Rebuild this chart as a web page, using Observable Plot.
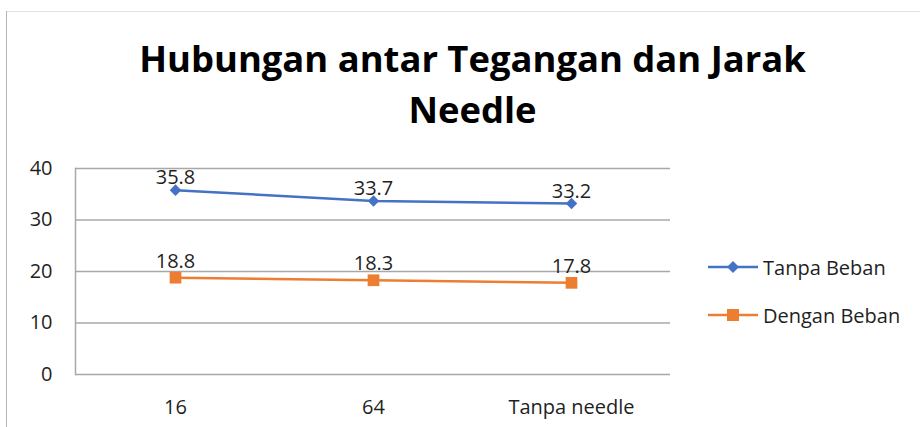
<!DOCTYPE html>
<html>
<head>
<meta charset="utf-8">
<script src="https://cdn.jsdelivr.net/npm/d3@7"></script>
<script src="https://cdn.jsdelivr.net/npm/@observablehq/plot@0.6"></script>
<style>
  html, body { margin: 0; padding: 0; background: #fff; }
  #wrap { position: relative; width: 920px; height: 427px; overflow: hidden; font-family: "Open Sans", sans-serif; }
  #frameTop { position: absolute; left: 6px; top: 11px; width: 914px; height: 0; border-top: 1px solid #e2e2e2; }
  #frameLeft { position: absolute; left: 6px; top: 11px; width: 0; height: 416px; border-left: 1.5px solid #b5b5b5; }
  #title { position: absolute; left: 0; width: 945px; top: 33px; text-align: center; font-weight: 700; font-size: 36.4px; line-height: 51px; color: #000; }
  #chart { position: absolute; left: 0; top: 0; }
  #legend { position: absolute; left: 706px; top: 252px; font-size: 20px; color: #1f1f1f; }
  .item { display: flex; align-items: center; height: 30px; margin-bottom: 18px; }
  .item svg { margin-right: 3px; }
</style>
</head>
<body>
<div id="wrap">
  <div id="frameTop"></div>
  <div id="frameLeft"></div>
  <div id="chart"></div>
  <div id="title">Hubungan antar Tegangan dan Jarak<br>Needle</div>
  <div id="legend"></div>
</div>
<script>
const categories = ["16", "64", "Tanpa needle"];
const tanpaBeban = [35.8, 33.7, 33.2];
const denganBeban = [18.8, 18.3, 17.8];
const yTicks = [0, 10, 20, 30, 40];
const seriesNames = ["Tanpa Beban", "Dengan Beban"];
const seriesColors = ["#4472C4", "#ED7D31"];

const rowsA = categories.map((c, i) => ({cat: c, v: tanpaBeban[i]}));
const rowsB = categories.map((c, i) => ({cat: c, v: denganBeban[i]}));

const chart = Plot.plot({
  width: 920,
  height: 427,
  marginLeft: 75,
  marginRight: 250,
  marginTop: 168,
  marginBottom: 53,
  style: {fontFamily: "Open Sans, sans-serif", fontSize: "20px", color: "#1f1f1f", background: "transparent"},
  x: {type: "point", domain: categories, padding: 0.5, label: null},
  y: {domain: [0, 40], ticks: yTicks, label: null},
  marks: [
    Plot.ruleY(yTicks, {stroke: "#a8a8a8", strokeWidth: 1.5}),
    Plot.frame({anchor: "left", stroke: "#a8a8a8", strokeWidth: 1.5}),
    Plot.axisY({ticks: yTicks, tickSize: 0, tickPadding: 23, fontSize: 20, fill: "#1f1f1f", label: null}),
    Plot.axisX({tickSize: 0, tickPadding: 25, fontSize: 20, fill: "#1f1f1f", label: null}),
    Plot.line(rowsA, {x: "cat", y: "v", stroke: seriesColors[0], strokeWidth: 2.5}),
    Plot.dot(rowsA, {x: "cat", y: "v", symbol: "diamond2", r: 5.2, fill: seriesColors[0], stroke: "none"}),
    Plot.line(rowsB, {x: "cat", y: "v", stroke: seriesColors[1], strokeWidth: 2.5}),
    Plot.dot(rowsB, {x: "cat", y: "v", symbol: "square", r: 6.6, fill: seriesColors[1], stroke: "none"}),
    Plot.text(rowsA, {x: "cat", y: "v", text: d => d.v.toFixed(1), lineAnchor: "bottom", dy: -6, fontSize: 20, fill: "#1f1f1f"}),
    Plot.text(rowsB, {x: "cat", y: "v", text: d => d.v.toFixed(1), lineAnchor: "bottom", dy: -10, fontSize: 20, fill: "#1f1f1f"})
  ]
});
document.getElementById("chart").appendChild(chart);

const legend = document.getElementById("legend");
seriesNames.forEach((name, i) => {
  const item = document.createElement("div");
  item.className = "item";
  const marker = i === 0
    ? `<path d="M27,1 L33,7 L27,13 L21,7 Z" fill="${seriesColors[i]}"/>`
    : `<rect x="21" y="1" width="12" height="12" fill="${seriesColors[i]}"/>`;
  item.innerHTML = `<svg width="54" height="14"><line x1="2" y1="7" x2="52" y2="7" stroke="${seriesColors[i]}" stroke-width="2.5"/>${marker}</svg><span>${name}</span>`;
  legend.appendChild(item);
});
</script>
</body>
</html>
